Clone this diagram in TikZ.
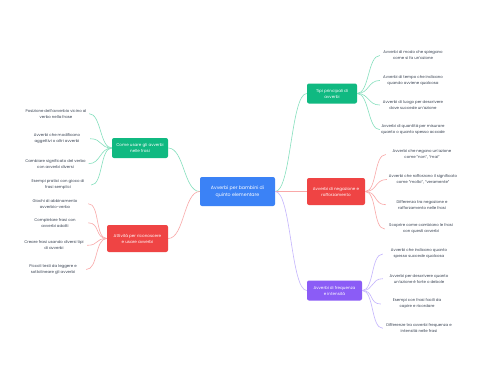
\documentclass[tikz,border=0pt]{standalone}
\usepackage{fontspec}
\setmainfont{Poppins}
\definecolor{cblue}{HTML}{3B82F6}
\definecolor{cgreen}{HTML}{10B981}
\definecolor{cred}{HTML}{EF4444}
\definecolor{cpurple}{HTML}{8B5CF6}
\definecolor{lgreen}{HTML}{86E0BE}
\definecolor{lred}{HTML}{F9A8A8}
\definecolor{lpurple}{HTML}{C4B5FD}
\definecolor{leaftext}{HTML}{374151}
\begin{document}
\begin{tikzpicture}[x=1pt,y=-1pt,
  box/.style={rounded corners=2pt, text=white, align=center, inner sep=0pt,
    font=\fontsize{4.1}{6}\selectfont},
  leaf/.style={text=leaftext, align=center, inner sep=0pt,
    font=\fontsize{3.9}{6}\selectfont},
  conn/.style={line width=0.6pt},
  gl/.style={conn, draw=lgreen},
  rl/.style={conn, draw=lred},
  pl/.style={conn, draw=lpurple}]
\useasboundingbox[fill=white] (0,0) rectangle (480,384);

% central
\node[box, fill=cblue, minimum width=75pt, minimum height=29pt,
  font=\fontsize{4.7}{7.2}\selectfont] (c) at (237.5,191.5)
  {Avverbi per bambini di\\quinto elementare};

% branches
\node[box, fill=cgreen, minimum width=50pt, minimum height=20pt] (b1) at (332,93.5)
  {Tipi principali di\\avverbi};
\node[box, fill=cred, minimum width=58pt, minimum height=27pt] (b2) at (336,191.5)
  {Avverbi di negazione e\\rafforzamento};
\node[box, fill=cpurple, minimum width=55pt, minimum height=20pt] (b3) at (334.5,290.5)
  {Avverbi di frequenza\\e intensità};
\node[box, fill=cgreen, minimum width=56pt, minimum height=20pt] (b4) at (140,148)
  {Come usare gli avverbi\\nelle frasi};
\node[box, fill=cred, minimum width=61pt, minimum height=27pt] (b5) at (137.5,238.5)
  {Attività per riconoscere\\e usare avverbi};

% leaves group 1
\begin{scope}[every node/.append style={leaf, minimum width=66pt}]
\node (l11) at (413,55.5) {Avverbi di modo che spiegano\\come si fa un'azione};
\node (l12) at (413,80.5) {Avverbi di tempo che indicano\\quando avviene qualcosa};
\node (l13) at (413,105) {Avverbi di luogo per descrivere\\dove succede un'azione};
\node (l14) at (413,129.7) {Avverbi di quantità per misurare\\quanto o quanto spesso accade};
\end{scope}
% leaves group 2
\begin{scope}[every node/.append style={leaf, minimum width=72pt}]
\node (l21) at (422,154.5) {Avverbi che negano un'azione\\come "non", "mai"};
\node (l22) at (423,179.5) {Avverbi che rafforzano il significato\\come "molto", "veramente"};
\node (l23) at (422,204.7) {Differenza tra negazione e\\rafforzamento nelle frasi};
\node (l24) at (421,229) {Scoprire come cambiano le frasi\\con questi avverbi};
\end{scope}
% leaves group 3
\begin{scope}[every node/.append style={leaf, minimum width=72pt}]
\node (l31) at (419,254) {Avverbi che indicano quanto\\spesso succede qualcosa};
\node (l32) at (419,278.7) {Avverbi per descrivere quanto\\un'azione è forte o debole};
\node (l33) at (417,304) {Esempi con frasi facili da\\capire e ricordare};
\node (l34) at (419,328.3) {Differenze tra avverbi frequenza e\\intensità nelle frasi};
\end{scope}
% leaves group 4
\begin{scope}[every node/.append style={leaf, minimum width=66pt}]
\node (l41) at (56,113.7) {Posizione dell'avverbio vicino al\\verbo nella frase};
\node (l42) at (57,138.7) {Avverbi che modificano\\aggettivi o altri avverbi};
\node (l43) at (55.5,163.7) {Cambiare significato del verbo\\con avverbi diversi};
\node (l44) at (58,185) {Esempi pratici con gioco di\\frasi semplici};
\end{scope}
% leaves group 5
\begin{scope}[every node/.append style={leaf, minimum width=66pt}]
\node (l51) at (55,203.7) {Giochi di abbinamento\\avverbio-verbo};
\node (l52) at (55,222.8) {Completare frasi con\\avverbi adatti};
\node (l53) at (54,245.3) {Creare frasi usando diversi tipi\\di avverbi};
\node (l54) at (53,269.5) {Piccoli testi da leggere e\\sottolineare gli avverbi};
\end{scope}

% central connectors
\draw[gl] (c.east) .. controls +(16,0) and +(-16,0) .. (b1.west);
\draw[rl] (c.east) .. controls +(16,0) and +(-16,0) .. (b2.west);
\draw[pl] (c.east) .. controls +(16,0) and +(-16,0) .. (b3.west);
\draw[gl] (c.west) .. controls +(-16,0) and +(16,0) .. (b4.east);
\draw[rl] (c.west) .. controls +(-16,0) and +(16,0) .. (b5.east);

% leaf connectors
\foreach \l in {l11,l12,l13,l14}
  \draw[gl] (b1.east) .. controls +(12,0) and +(-12,0) .. (\l.west);
\foreach \l in {l21,l22,l23,l24}
  \draw[rl] (b2.east) .. controls +(12,0) and +(-12,0) .. (\l.west);
\foreach \l in {l31,l32,l33,l34}
  \draw[pl] (b3.east) .. controls +(12,0) and +(-12,0) .. (\l.west);
\foreach \l in {l41,l42,l43,l44}
  \draw[gl] (b4.west) .. controls +(-12,0) and +(12,0) .. (\l.east);
\foreach \l in {l51,l52,l53,l54}
  \draw[rl] (b5.west) .. controls +(-12,0) and +(12,0) .. (\l.east);
\end{tikzpicture}
\end{document}
